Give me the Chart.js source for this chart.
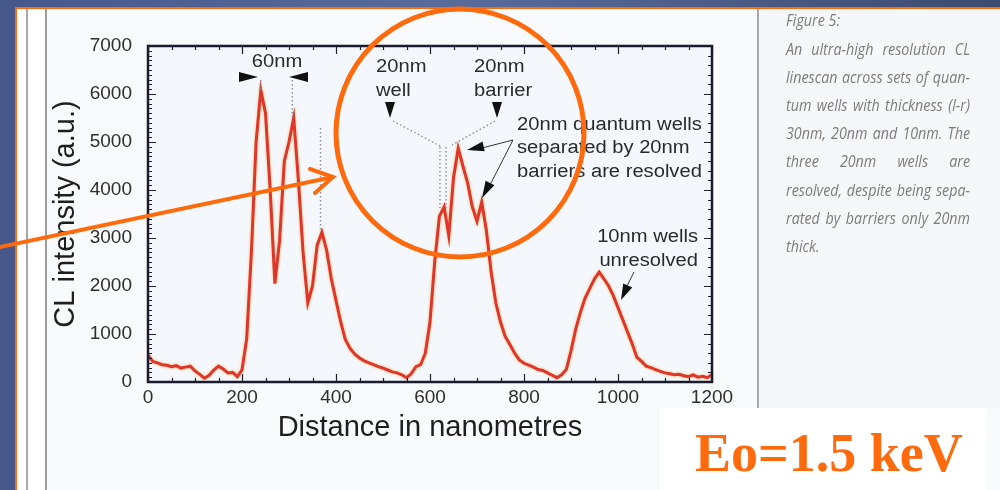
<!DOCTYPE html>
<html>
<head>
<meta charset="utf-8">
<title>CL linescan</title>
<script src="https://cdn.jsdelivr.net/npm/chart.js@4.4.1/dist/chart.umd.min.js"></script>
<style>
  html, body { margin: 0; padding: 0; background: #3f5079; overflow: hidden; }
  canvas { display: block; }
</style>
</head>
<body>
<canvas id="scan" width="1000" height="490"></canvas>
<script>
// CL linescan: distance along the scan (nm) and measured intensity (a.u.)
const distanceNm = [
  0, 10, 20, 30, 40, 50, 60, 70, 80, 90,
  100, 110, 120, 130, 140, 150, 160, 170, 180, 190,
  200, 210, 220, 230, 240, 250, 260, 270, 280, 290,
  300, 310, 320, 330, 340, 350, 360, 370, 380, 390,
  400, 410, 420, 430, 440, 450, 460, 470, 480, 490,
  500, 510, 520, 530, 540, 550, 560, 570, 580, 590,
  600, 610, 620, 630, 640, 650, 660, 670, 680, 690,
  700, 710, 720, 730, 740, 750, 760, 770, 780, 790,
  800, 810, 820, 830, 840, 850, 860, 870, 880, 890,
  900, 910, 920, 930, 940, 950, 960, 970, 980, 990,
  1000, 1010, 1020, 1030, 1040, 1050, 1060, 1070, 1080, 1090,
  1100, 1110, 1120, 1130, 1140, 1150, 1160, 1170, 1180, 1190,
  1200
];
const intensity = [
  560, 430, 400, 360, 350, 320, 340, 290, 310, 330,
  230, 160, 80, 140, 250, 330, 270, 190, 200, 110,
  250, 900, 2700, 5000, 6080, 5600, 4000, 2050, 2950, 4600,
  5000, 5500, 4200, 2700, 1650, 2000, 2850, 3120, 2750, 2150,
  1700, 1250, 880, 700, 580, 500, 440, 400, 360, 320,
  290, 250, 210, 190, 150, 90, 170, 320, 360, 600,
  1250, 2500, 3450, 3650, 3050, 4250, 4870, 4500, 4150, 3650,
  3350, 3750, 3150, 2300, 1650, 1250, 950, 780, 600, 460,
  390, 350, 310, 260, 240, 190, 140, 90, 150, 260,
  650, 1100, 1450, 1750, 1950, 2150, 2290, 2150, 2000, 1800,
  1550, 1300, 1050, 800, 520, 430, 330, 300, 260, 220,
  190, 170, 150, 160, 130, 110, 150, 100, 120, 90,
  150
];
const xTickValues = [0, 200, 400, 600, 800, 1000, 1200];
const yTickValues = [0, 1000, 2000, 3000, 4000, 5000, 6000, 7000];

const captionLines = [
  'An ultra-high resolution CL',
  'linescan across sets of quan-',
  'tum wells with thickness (l-r)',
  '30nm, 20nm and 10nm.  The',
  'three 20nm wells are',
  'resolved, despite being sepa-',
  'rated by barriers only 20nm',
  'thick.'
];

const SANS = "'Liberation Sans', Arial, Helvetica, sans-serif";
const ORANGE = '#ff6a0d';

function stretchedText(ctx, text, x, y, sx, align) {
  ctx.save();
  ctx.translate(x, y);
  ctx.scale(sx, 1);
  ctx.textAlign = align;
  ctx.fillText(text, 0, 0);
  ctx.restore();
}

function captionLine(ctx, text, x, y, width, justify) {
  const words = text.split(' ').filter(Boolean);
  let sx = 0.84;
  const raw = words.map(w => ctx.measureText(w).width);
  let total = raw.reduce((a, b) => a + b, 0) * sx;
  let gap = ctx.measureText(' ').width * sx;
  if (justify && words.length > 1) {
    gap = (width - total) / (words.length - 1);
    if (gap < 3) {
      gap = 3;
      sx = (width - gap * (words.length - 1)) / raw.reduce((a, b) => a + b, 0);
    }
  }
  let cx = x;
  words.forEach((w, i) => {
    ctx.save();
    ctx.translate(cx, y);
    ctx.scale(sx, 1);
    ctx.textAlign = 'left';
    ctx.fillText(w, 0, 0);
    ctx.restore();
    cx += raw[i] * sx + gap;
  });
}

function arrowHead(ctx, tipX, tipY, fromX, fromY, len, half) {
  const a = Math.atan2(tipY - fromY, tipX - fromX);
  const bx = tipX - len * Math.cos(a), by = tipY - len * Math.sin(a);
  const px = -Math.sin(a) * half, py = Math.cos(a) * half;
  ctx.beginPath();
  ctx.moveTo(tipX, tipY);
  ctx.lineTo(bx + px, by + py);
  ctx.lineTo(bx - px, by - py);
  ctx.closePath();
  ctx.fill();
}

// Slide backdrop, scanned page, caption column and energy label
const pagePlugin = {
  id: 'page',
  beforeDraw(chart) {
    const ctx = chart.ctx;
    const area = chart.chartArea;
    ctx.save();
    const g = ctx.createLinearGradient(0, 0, 1000, 0);
    g.addColorStop(0, '#46588a');
    g.addColorStop(0.45, '#586c9b');
    g.addColorStop(1, '#3e4b70');
    ctx.fillStyle = g;
    ctx.fillRect(0, 0, 1000, 490);

    ctx.fillStyle = '#f8fafc';
    ctx.fillRect(16, 8, 984, 482);
    ctx.fillStyle = '#ffffff';
    ctx.fillRect(17, 9, 30, 481);

    ctx.strokeStyle = ORANGE;
    ctx.lineWidth = 2;
    ctx.beginPath();
    ctx.moveTo(16, 491);
    ctx.lineTo(16, 8);
    ctx.lineTo(1001, 8);
    ctx.stroke();

    ctx.fillStyle = '#a8a8a8';
    ctx.fillRect(26, 9, 2, 481);
    ctx.fillStyle = '#9d9d9d';
    ctx.fillRect(45, 9, 2, 481);

    ctx.fillStyle = '#f4f8fc';
    ctx.fillRect(area.left, area.top, area.right - area.left, area.bottom - area.top);

    // caption column
    ctx.fillStyle = '#f6f7f9';
    ctx.fillRect(760, 9, 240, 400);
    ctx.fillStyle = '#a9a9a9';
    ctx.fillRect(757, 9, 2, 400);

    ctx.fillStyle = '#7c7c7c';
    ctx.font = "italic 17px 'Open Sans', 'DejaVu Sans', sans-serif";
    ctx.textBaseline = 'alphabetic';
    captionLine(ctx, 'Figure 5:', 786, 26, 184, false);
    captionLines.forEach((t, i) => {
      captionLine(ctx, t, 786, 55 + i * 28.1, 184, i < captionLines.length - 1);
    });

    // energy label
    ctx.fillStyle = '#ffffff';
    ctx.fillRect(660, 408, 327, 82);
    ctx.fillStyle = ORANGE;
    ctx.font = "bold 54px 'Liberation Serif', 'Times New Roman', serif";
    ctx.textAlign = 'left';
    ctx.fillText('Eo=1.5 keV', 695, 471);
    ctx.restore();
  },
  beforeDatasetsDraw(chart) {
    const ctx = chart.ctx;
    ctx.save();
    ctx.shadowColor = 'rgba(255, 170, 60, 0.7)';
    ctx.shadowBlur = 3;
  },
  afterDatasetsDraw(chart) {
    const ctx = chart.ctx;
    ctx.restore();
    const area = chart.chartArea;
    const xs = chart.scales.x, ys = chart.scales.y;
    ctx.save();

    // inward tick marks on all four sides
    ctx.strokeStyle = '#1e1e30';
    ctx.lineWidth = 1.2;
    ctx.beginPath();
    for (let v = 0; v <= 1200; v += 50) {
      const px = Math.round(xs.getPixelForValue(v)) + 0.5;
      const len = v % 200 === 0 ? 8 : 4;
      ctx.moveTo(px, area.bottom); ctx.lineTo(px, area.bottom - len);
      ctx.moveTo(px, area.top); ctx.lineTo(px, area.top + len);
    }
    for (let v = 0; v <= 7000; v += 100) {
      const py = Math.round(ys.getPixelForValue(v)) + 0.5;
      const major = v % 1000 === 0;
      ctx.moveTo(area.left, py); ctx.lineTo(area.left + (major ? 8 : 4), py);
      if (v % 200 === 0) {
        ctx.moveTo(area.right, py); ctx.lineTo(area.right - (major ? 8 : 4), py);
      }
    }
    ctx.stroke();

    // plot frame
    ctx.strokeStyle = '#1b1b2e';
    ctx.lineWidth = 2.5;
    ctx.strokeRect(area.left, area.top, area.right - area.left, area.bottom - area.top);

    // dotted guides from the peaks
    ctx.strokeStyle = '#8c8c9c';
    ctx.lineWidth = 1.4;
    ctx.setLineDash([1.6, 2.4]);
    ctx.beginPath();
    const p1 = xs.getPixelForValue(240), p2 = xs.getPixelForValue(307), p3 = xs.getPixelForValue(367);
    ctx.moveTo(p1, 80); ctx.lineTo(p1, ys.getPixelForValue(6080));
    ctx.moveTo(p2, 80); ctx.lineTo(p2, ys.getPixelForValue(5520));
    ctx.moveTo(p3, 128); ctx.lineTo(p3, ys.getPixelForValue(3120));
    ctx.moveTo(393, 121); ctx.lineTo(442, 147);
    ctx.moveTo(495, 121); ctx.lineTo(452, 145);
    ctx.moveTo(440, 147); ctx.lineTo(440, 208);
    ctx.moveTo(446, 147); ctx.lineTo(446, 210);
    ctx.stroke();
    ctx.setLineDash([]);

    // annotation text
    ctx.fillStyle = '#2a2a2a';
    ctx.font = '18px ' + SANS;
    ctx.textBaseline = 'alphabetic';
    stretchedText(ctx, '60nm', 277, 67, 1.12, 'center');
    stretchedText(ctx, '20nm', 376, 72, 1.12, 'left');
    stretchedText(ctx, 'well', 376, 96, 1.12, 'left');
    stretchedText(ctx, '20nm', 474, 72, 1.12, 'left');
    stretchedText(ctx, 'barrier', 474, 96, 1.12, 'left');
    stretchedText(ctx, '20nm quantum wells', 517, 130, 1.12, 'left');
    stretchedText(ctx, 'separated by 20nm', 517, 153, 1.12, 'left');
    stretchedText(ctx, 'barriers are resolved', 517, 177, 1.12, 'left');
    stretchedText(ctx, '10nm wells', 698, 242, 1.12, 'right');
    stretchedText(ctx, 'unresolved', 698, 266, 1.12, 'right');

    // pointer lines and arrowheads
    ctx.strokeStyle = '#333';
    ctx.lineWidth = 1;
    ctx.beginPath();
    ctx.moveTo(482, 148); ctx.lineTo(513, 140); ctx.lineTo(490, 185);
    ctx.moveTo(634, 272); ctx.lineTo(625, 290);
    ctx.stroke();
    ctx.fillStyle = '#111';
    arrowHead(ctx, 258, 77, 238, 77, 19, 5);
    arrowHead(ctx, 289, 77, 309, 77, 19, 5);
    arrowHead(ctx, 390, 118, 390, 102, 16, 5);
    arrowHead(ctx, 497, 118, 497, 102, 16, 5);
    arrowHead(ctx, 467, 150, 513, 140, 17, 5);
    arrowHead(ctx, 482, 198, 513, 140, 17, 5);
    arrowHead(ctx, 621, 300, 634, 272, 16, 5);
    ctx.restore();
  },
  afterDraw(chart) {
    const ctx = chart.ctx;
    ctx.save();
    ctx.strokeStyle = ORANGE;
    ctx.lineWidth = 5;
    ctx.beginPath();
    ctx.arc(460, 133, 124, 0, Math.PI * 2);
    ctx.stroke();

    ctx.lineWidth = 4;
    ctx.lineCap = 'round';
    ctx.beginPath();
    ctx.moveTo(-5, 248);
    ctx.lineTo(333, 177);
    ctx.moveTo(310, 169);
    ctx.lineTo(333, 177);
    ctx.lineTo(315, 193);
    ctx.stroke();
    ctx.restore();
  }
};

const tickFont = { family: SANS, size: 19 };
const plainNumber = v => String(v);

new Chart(document.getElementById('scan'), {
  type: 'line',
  data: {
    datasets: [{
      data: distanceNm.map((x, i) => ({ x, y: intensity[i] })),
      borderColor: '#e0352b',
      borderWidth: 3,
      pointRadius: 0,
      tension: 0,
      fill: false
    }]
  },
  options: {
    responsive: false,
    animation: false,
    devicePixelRatio: 1,
    layout: { padding: { left: 49, right: 288, top: 46, bottom: 45 } },
    plugins: { legend: { display: false }, tooltip: { enabled: false } },
    scales: {
      x: {
        type: 'linear',
        min: 0,
        max: 1200,
        afterBuildTicks: s => { s.ticks = xTickValues.map(v => ({ value: v })); },
        afterFit: s => { s.height = 63; },
        grid: { display: false, drawTicks: false },
        border: { display: false },
        ticks: { padding: 4, color: '#2e2e2e', font: tickFont, maxRotation: 0, callback: plainNumber },
        title: { display: true, text: 'Distance in nanometres', color: '#1e1e1e', padding: 0, font: { family: SANS, size: 29 } }
      },
      y: {
        type: 'linear',
        min: 0,
        max: 7000,
        afterBuildTicks: s => { s.ticks = yTickValues.map(v => ({ value: v })); },
        afterFit: s => { s.width = 99; },
        grid: { display: false, drawTicks: false },
        border: { display: false },
        ticks: { padding: 16, color: '#2e2e2e', font: tickFont, callback: plainNumber },
        title: { display: true, text: 'CL intensity (a.u.)', color: '#1e1e1e', padding: 0, font: { family: SANS, size: 29 } }
      }
    }
  },
  plugins: [pagePlugin]
});
</script>
</body>
</html>
